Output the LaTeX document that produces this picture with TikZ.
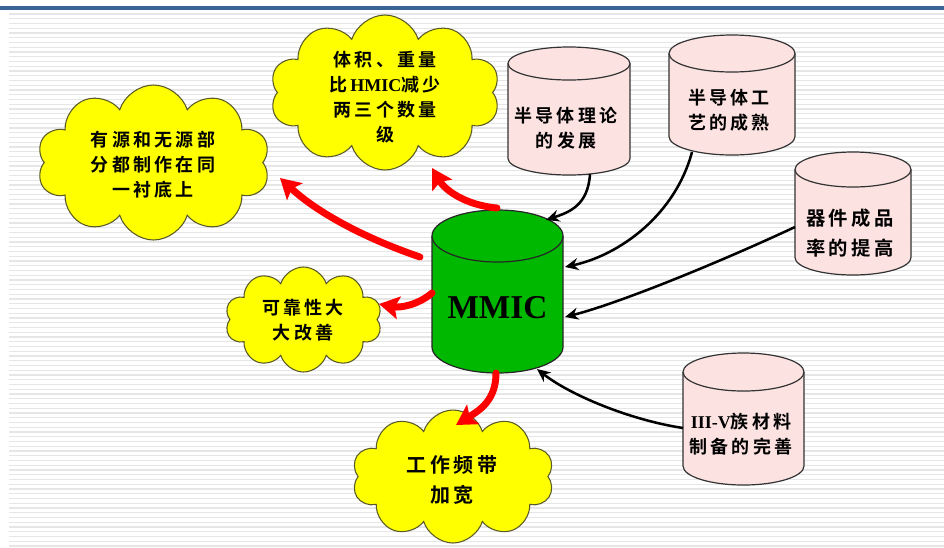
\documentclass[tikz,border=0pt]{standalone}
\usepackage{fontspec}
\setmainfont{Liberation Serif}
\newfontfamily\cjk{Noto Sans CJK SC}[BoldFont=* Bold, LetterSpace=18]
\usetikzlibrary{shapes.symbols,arrows.meta}

\definecolor{barblue}{HTML}{3A6592}
\definecolor{stripegray}{HTML}{E6E6E6}
\definecolor{cloudfill}{HTML}{FFFF00}
\definecolor{cloudline}{HTML}{5A5A28}
\definecolor{drumpink}{HTML}{FDE2E2}
\definecolor{drumgreen}{HTML}{00B800}
\definecolor{arrowred}{HTML}{FF0000}

% cylinder: cx, rx, centre y of top ellipse, centre y of bottom ellipse, ry, fill, outline
\newcommand\drum[7]{%
  \fill[#6] (#1-#2,-#3) -- (#1-#2,-#4)
    arc[start angle=180,end angle=360,x radius=#2,y radius=#5]
    -- (#1+#2,-#3)
    arc[start angle=0,end angle=180,x radius=#2,y radius=#5] -- cycle;
  \draw[#7,line width=0.9pt] (#1-#2,-#3) -- (#1-#2,-#4)
    arc[start angle=180,end angle=360,x radius=#2,y radius=#5]
    -- (#1+#2,-#3);
  \draw[#7,line width=0.9pt] (#1,-#3) ellipse[x radius=#2,y radius=#5];
}

\newcommand\ser[1]{{\rmfamily\bfseries #1}}

\tikzset{
  puff/.style={cloud, cloud puffs=10, cloud puff arc=145, cloud ignores aspect,
    draw=cloudline, fill=cloudfill, line width=0.8pt, inner sep=0pt},
  cjktext/.style={align=center, inner sep=0pt,
    font=\cjk\bfseries\fontsize{13.5pt}{18.75pt}\selectfont},
  bigcjk/.style={align=center, inner sep=0pt,
    font=\cjk\bfseries\fontsize{15pt}{22.5pt}\selectfont},
  feed/.style={draw=black, line width=1.9pt, -{Stealth[length=10pt,width=9pt]}},
  gain/.style={draw=arrowred, line width=5.2pt, line cap=round,
    -{Stealth[length=15pt,width=17pt,inset=3pt]}},
}

\begin{document}
\begin{tikzpicture}[x=0.75pt,y=0.75pt]
\useasboundingbox (0,0) rectangle (944,-547);
\fill[white] (0,0) rectangle (944,-547);

% striped page background and header bar
\foreach \i in {0,...,112}
  \draw[stripegray,line width=1.1pt] (9,-14-\i*4.75) -- (944,-14-\i*4.75);
\fill[barblue] (0,-6) rectangle (944,-10);

% benefit clouds
\node[puff, minimum width=174.75pt, minimum height=116.25pt] (cloudA) at (153.5,-162.5) {};
\node[puff, minimum width=172.5pt, minimum height=116.25pt] (cloudB) at (385,-92.5) {};
\node[puff, minimum width=117.75pt, minimum height=78.75pt] (cloudC) at (303.5,-319.5) {};
\node[puff, minimum width=151.5pt, minimum height=99.75pt] (cloudD) at (453,-476.5) {};

\node[cjktext] (tA) at (153,-165) {有源和无源部\\分都制作在同\\一衬底上};
\node[cjktext] (tB) at (385,-97) {体积、重量\\比\,\ser{HMIC}减少\\两三个数量\\级};
\node[cjktext] (tC) at (303,-320) {可靠性大\\大改善};
\node[bigcjk] (tD) at (452,-480) {工作频带\\加宽};

% driving factors (pink cylinders)
\drum{569}{61}{63.5}{158.5}{16.5}{drumpink}{black!80}
\drum{732}{63}{53.5}{136.5}{18.5}{drumpink}{black!80}
\drum{853}{58}{169.5}{257.5}{17.5}{drumpink}{black!80}
\drum{743.5}{60.5}{372}{466}{19}{drumpink}{black!80}

\node[cjktext] (d1) at (566,-128.5) {半导体理论\\的发展};
\node[cjktext] (d2) at (729,-110) {半导体工\\艺的成熟};
\node[cjktext, font=\cjk\bfseries\fontsize{14.5pt}{22pt}\selectfont] (d3) at (850,-233) {器件成品\\率的提高};
\node[cjktext] (d4) at (741,-434.5) {\ser{III-V}族材料\\制备的完善};

% central MMIC cylinder
\drum{497.5}{65.5}{236}{347}{26}{drumgreen}{black!85}
\node[font=\rmfamily\bfseries\fontsize{25pt}{29pt}\selectfont, inner sep=0pt] (mmic) at (497.5,-308) {MMIC};

% connector end points on the cylinder borders
\coordinate (d1out) at (590,-174);
\coordinate (d2out) at (692,-152);
\coordinate (d3out) at (795,-227);
\coordinate (d4out) at (683,-428);
\coordinate (mIn1) at (546,-220);
\coordinate (mIn2) at (565,-267);
\coordinate (mIn3) at (565,-317);
\coordinate (mIn4) at (537,-369);
\coordinate (mTop) at (497,-208);
\coordinate (mLeftA) at (420,-257);
\coordinate (mLeftB) at (432,-293);
\coordinate (mBot) at (496,-373);
\coordinate (toB) at (432,-168);
\coordinate (toA) at (280,-178);
\coordinate (toC) at (379,-304);
\coordinate (toD) at (456,-425);

% factors feeding MMIC
\draw[feed] (d1out) .. controls (588,-205) and (570,-212) .. (mIn1);
\draw[feed] (d2out) .. controls (675,-215) and (620,-255) .. (mIn2);
\draw[feed] (d3out) .. controls (720,-262) and (620,-303) .. (mIn3);
\draw[feed] (d4out) .. controls (630,-420) and (570,-395) .. (mIn4);

% resulting advantages
\draw[gain] (mTop) .. controls (465,-205) and (445,-190) .. (toB);
\draw[gain] (mLeftA) .. controls (370,-240) and (320,-215) .. (toA);
\draw[gain] (mLeftB) .. controls (418,-305) and (400,-308) .. (toC);
\draw[gain] (mBot) .. controls (496,-400) and (480,-410) .. (toD);
\end{tikzpicture}
\end{document}
